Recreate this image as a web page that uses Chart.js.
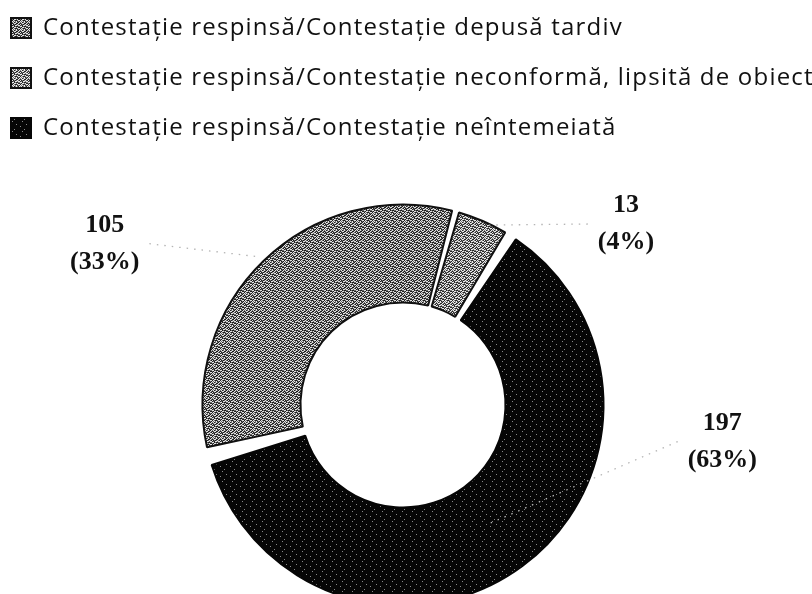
<!DOCTYPE html>
<html>
<head>
<meta charset="utf-8">
<script src="https://cdn.jsdelivr.net/npm/chart.js@4"></script>
<style>
    html, body { margin: 0; padding: 0; background: #fff; overflow: hidden; width: 812px; height: 594px; }
    #wrap { position: absolute; left: -15px; top: -10px; width: 836px; height: 670px; }
</style>
</head>
<body>
<div id="wrap"><canvas id="chart"></canvas></div>
<script>
const CATEGORIES = [
    'Contestație respinsă/Contestație depusă tardiv',
    'Contestație respinsă/Contestație neconformă, lipsită de obiect',
    'Contestație respinsă/Contestație neîntemeiată'
];
const VALUES = [105, 13, 197];

// where each value label sits: angle shift from slice middle (deg), distance (x outer radius)
const LABEL_SHIFT = [-17.6, 27.5, -46.9];
const LABEL_DIST = [1.73, 1.465, 1.64];
// where the dotted leader line ends on the slice (x outer radius)
const LEADER_DIST = [1.05, 1.0, 0.75];

const SPECKLE = [
    '20121021',
    '01202110',
    '12010202',
    '21102011',
    '02211020',
    '10020112',
    '21101200',
    '02012121'
];
const DARK = [
    '0000000000',
    '0000000100',
    '0000000000',
    '0000000000',
    '0100000000',
    '0000000000',
    '0000010000',
    '0000000000',
    '0000000000',
    '0000000001'
];

const canvas = document.getElementById('chart');
const ctx2d = canvas.getContext('2d');

function tilePattern(rows, palette) {
    const c = document.createElement('canvas');
    c.width = rows[0].length;
    c.height = rows.length;
    const g = c.getContext('2d');
    rows.forEach(function (row, y) {
        for (let x = 0; x < row.length; x++) {
            g.fillStyle = palette[row[x]];
            g.fillRect(x, y, 1, 1);
        }
    });
    return ctx2d.createPattern(c, 'repeat');
}

const COLORS = [
    tilePattern(SPECKLE, {'0': '#1c1c1c', '1': '#e2e2e2', '2': '#6a6a6a'}),
    tilePattern(SPECKLE, {'0': '#262626', '1': '#ececec', '2': '#7c7c7c'}),
    tilePattern(DARK, {'0': '#060606', '1': '#8a8a8a'})
];

// the legend text in the picture is wide, so track it out a little
const legendSpacing = {
    id: 'legendSpacing',
    beforeLayout(chart) {
        chart.ctx.letterSpacing = '1.2px';
    },
    beforeDraw(chart) {
        chart.ctx.letterSpacing = '1.2px';
    }
};

const sliceLabels = {
    id: 'sliceLabels',
    afterDatasetsDraw(chart) {
        const ctx = chart.ctx;
        const meta = chart.getDatasetMeta(0);
        const total = VALUES.reduce((a, b) => a + b, 0);
        ctx.save();
        ctx.letterSpacing = '0px';
        meta.data.forEach(function (arc, i) {
            const p = arc.getProps(['x', 'y', 'startAngle', 'endAngle', 'outerRadius'], true);
            const mid = (p.startAngle + p.endAngle) / 2;
            const a = mid + LABEL_SHIFT[i] * Math.PI / 180;
            const lx = p.x + Math.cos(a) * p.outerRadius * LABEL_DIST[i];
            const ly = p.y + Math.sin(a) * p.outerRadius * LABEL_DIST[i];
            const lines = [String(VALUES[i]), '(' + Math.round(VALUES[i] / total * 100) + '%)'];

            ctx.font = 'bold 26px "Liberation Serif"';
            const half = Math.max(...lines.map(t => ctx.measureText(t).width)) / 2;

            const ex = p.x + Math.cos(mid) * p.outerRadius * LEADER_DIST[i];
            const ey = p.y + Math.sin(mid) * p.outerRadius * LEADER_DIST[i];
            const side = ex > lx ? 1 : -1;
            ctx.strokeStyle = '#b4b4b4';
            ctx.lineWidth = 1.3;
            ctx.setLineDash([1.5, 6]);
            ctx.beginPath();
            ctx.moveTo(lx + side * (half + 10), ly);
            ctx.lineTo(ex, ey);
            ctx.stroke();
            ctx.setLineDash([]);

            ctx.fillStyle = '#111';
            ctx.textAlign = 'center';
            ctx.textBaseline = 'middle';
            ctx.fillText(lines[0], lx, ly - 18.5);
            ctx.fillText(lines[1], lx, ly + 18.5);
        });
        ctx.restore();
    }
};

new Chart(canvas, {
    type: 'doughnut',
    data: {
        labels: CATEGORIES,
        datasets: [{
            data: VALUES,
            backgroundColor: COLORS,
            borderColor: ['#111', '#111', '#060606'],
            borderWidth: 2,
            spacing: 9
        }]
    },
    options: {
        responsive: true,
        maintainAspectRatio: false,
        animation: false,
        rotation: -104,
        radius: 196,
        cutout: '50%',
        layout: {padding: 0},
        plugins: {
            legend: {
                position: 'top',
                align: 'start',
                labels: {
                    boxWidth: 20,
                    boxHeight: 20,
                    padding: 26,
                    color: '#111',
                    font: {family: '"Open Sans"', size: 24}
                }
            },
            tooltip: {enabled: false}
        }
    },
    plugins: [legendSpacing, sliceLabels]
});
</script>
</body>
</html>
